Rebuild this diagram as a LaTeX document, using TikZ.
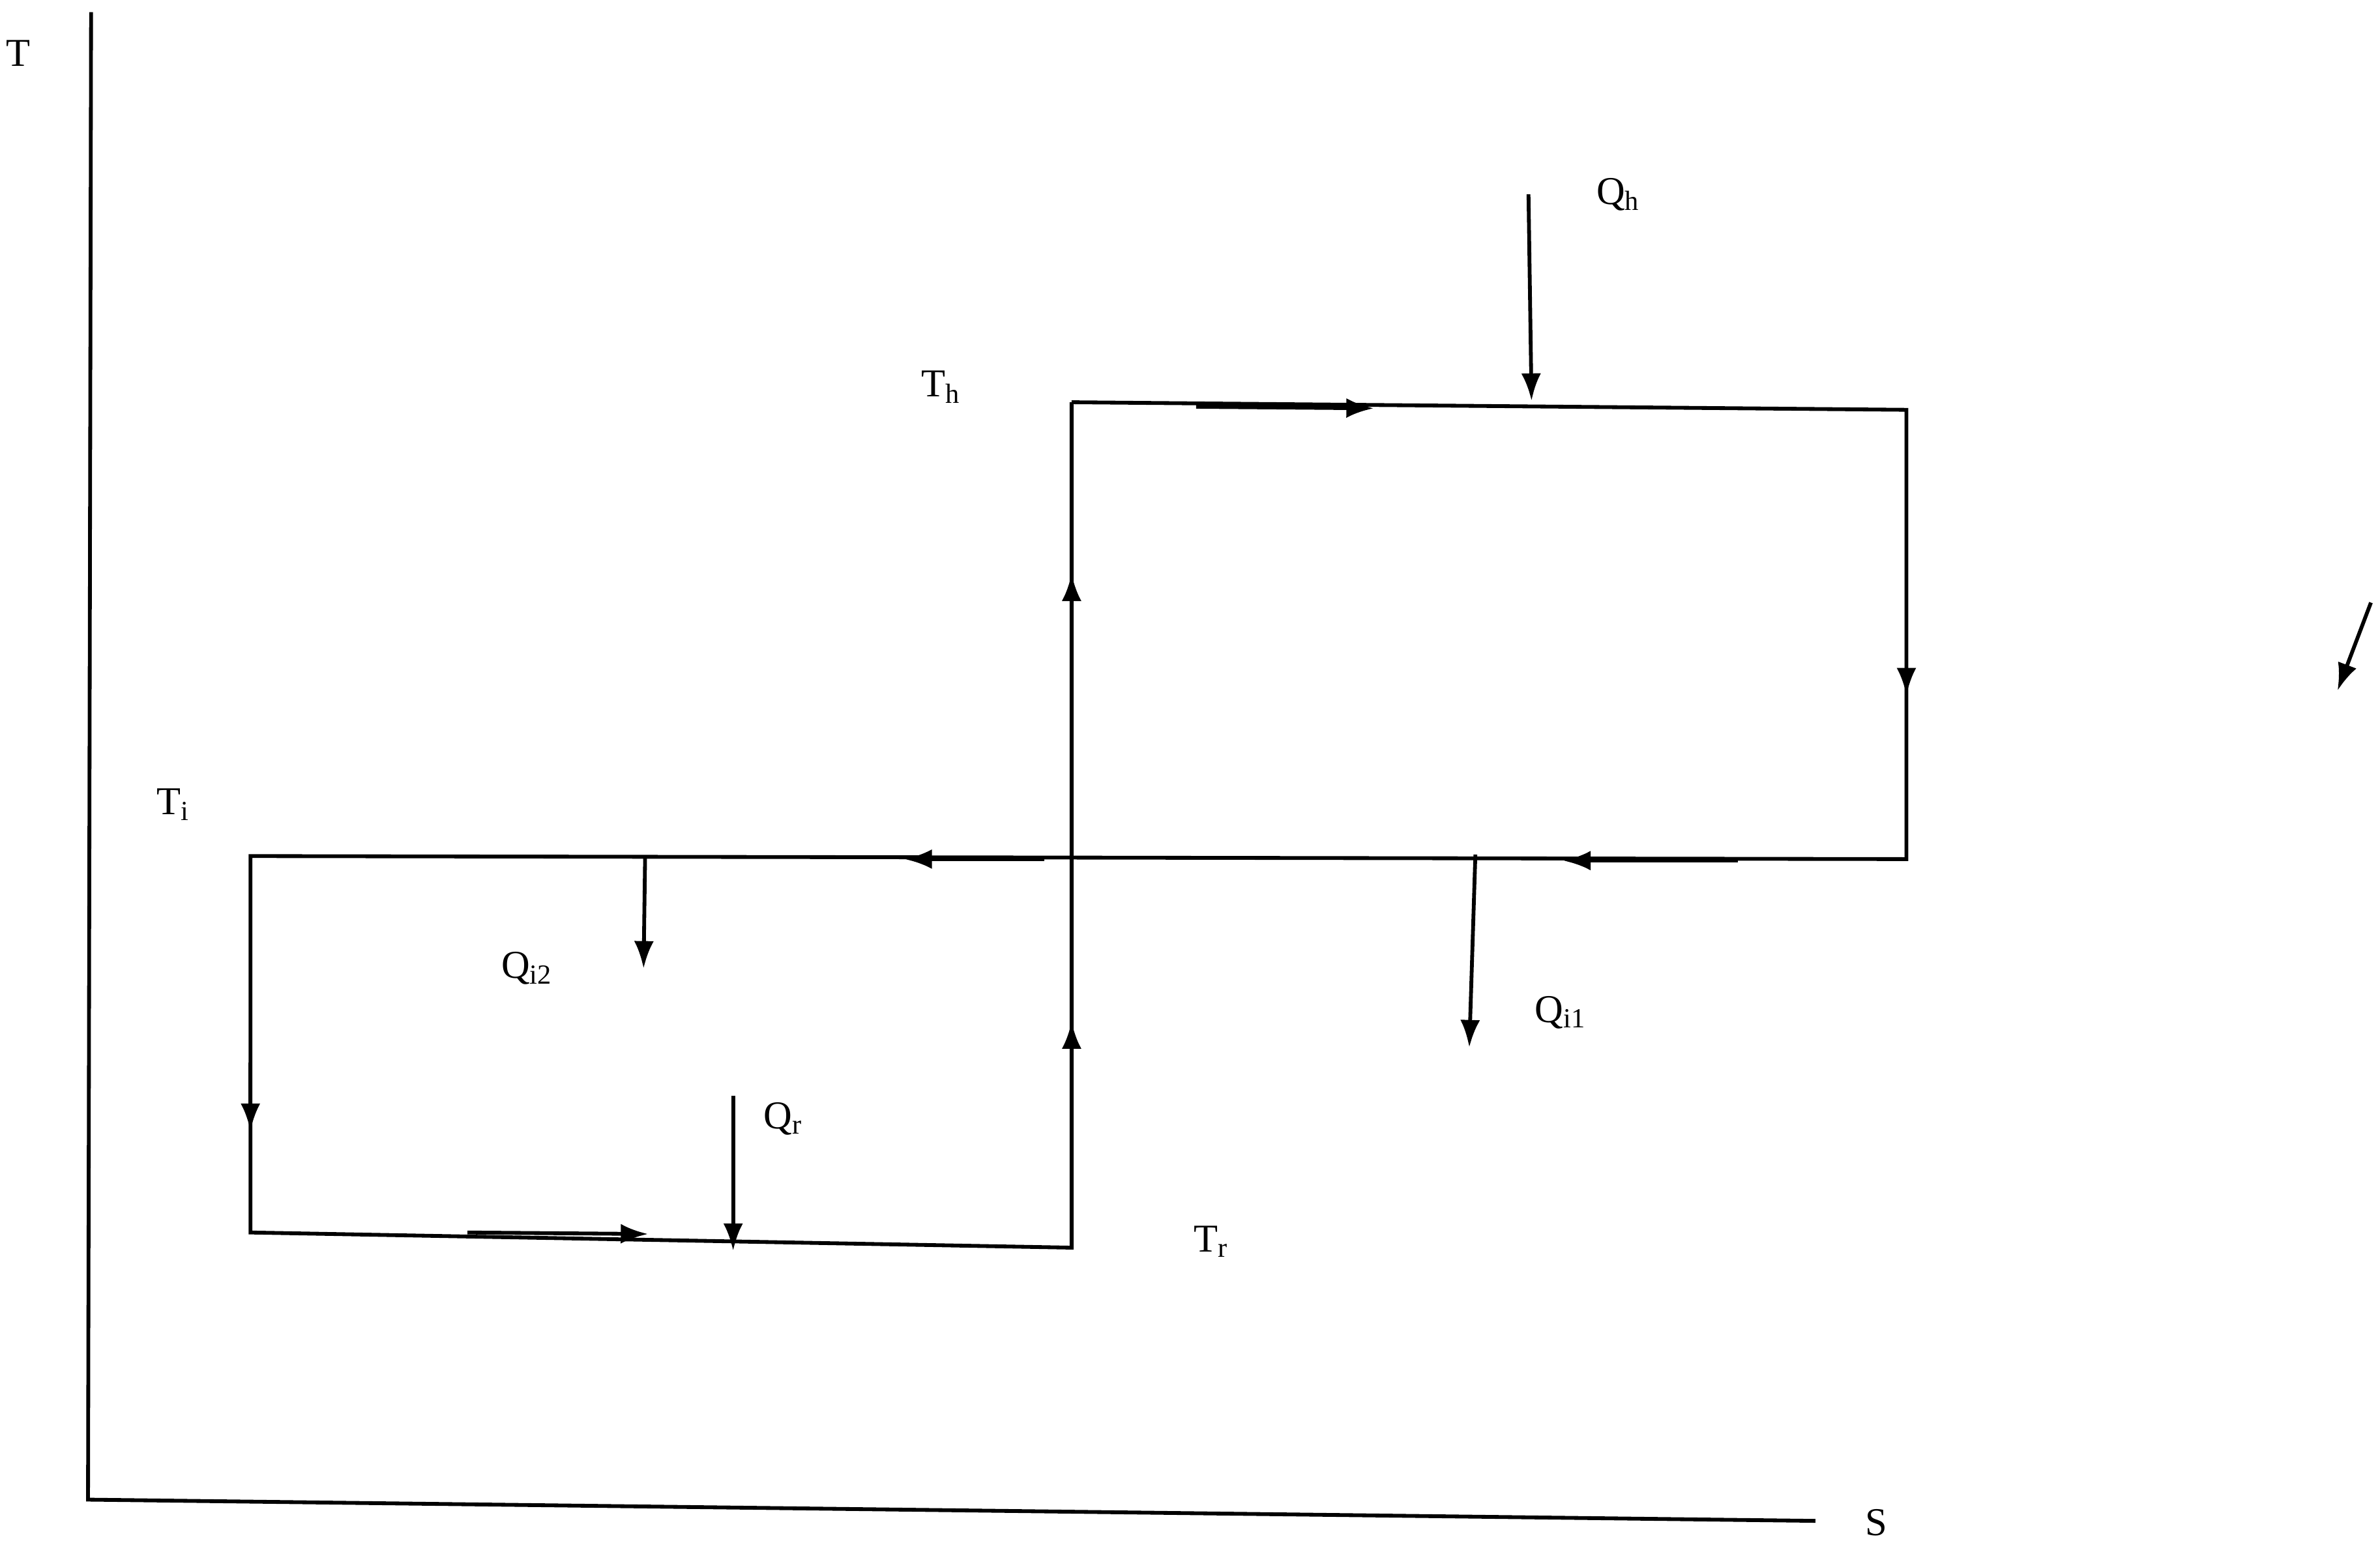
\documentclass[tikz,border=0pt]{standalone}
\usepackage{fontspec}
\setmainfont{Liberation Serif}
\usetikzlibrary{arrows.meta}
\begin{document}
\begin{tikzpicture}[x=1pt,y=-1pt,
  ln/.style={line width=2.5pt},
  arr/.style={line width=2.5pt,-{Latex[length=18pt,width=13pt]}},
  lab/.style={font=\fontsize{26}{30}\selectfont, inner sep=0pt}]
\useasboundingbox (0,0) rectangle (1568,1015);
% axes
\coordinate (ytop) at (60,8); \coordinate (org) at (58,988); \coordinate (xend) at (1196,1002);
\draw[ln] (ytop) -- (org) -- (xend);
\node[lab] (T) at (12,35) {T};
\node[lab] (S) at (1236,1003) {S};
% cycle corners
\coordinate (a) at (706,265); \coordinate (b) at (1256,270); \coordinate (c) at (1256,566);
\coordinate (d) at (165,564); \coordinate (e) at (165,812); \coordinate (f) at (706,822);
\draw[ln] (a) -- (b) -- (c) -- (d) -- (e) -- (f) -- (a);
% direction arrows
\coordinate (p1) at (788,268); \coordinate (p2) at (905,269);
\draw[arr] (p1) -- (p2);
\coordinate (p3) at (1256,420); \coordinate (p4) at (1256,458);
\draw[arr] (p3) -- (p4);
\coordinate (p5) at (1145,567); \coordinate (p6) at (1030,567);
\draw[arr] (p5) -- (p6);
\coordinate (p7) at (688,566); \coordinate (p8) at (596,566);
\draw[arr] (p7) -- (p8);
\coordinate (p9) at (165,700); \coordinate (p10) at (165,745);
\draw[arr] (p9) -- (p10);
\coordinate (p11) at (308,812); \coordinate (p12) at (427,813);
\draw[arr] (p11) -- (p12);
\coordinate (p13) at (706,420); \coordinate (p14) at (706,378);
\draw[arr] (p13) -- (p14);
\coordinate (p15) at (706,720); \coordinate (p16) at (706,673);
\draw[arr] (p15) -- (p16);
% heat arrows
\coordinate (qh1) at (1007,128); \coordinate (qh2) at (1009,264);
\draw[arr] (qh1) -- (qh2);
\coordinate (qi1a) at (972,563); \coordinate (qi1b) at (968,690);
\draw[arr] (qi1a) -- (qi1b);
\coordinate (qi2a) at (425,565); \coordinate (qi2b) at (424,638);
\draw[arr] (qi2a) -- (qi2b);
\coordinate (qra) at (483,722); \coordinate (qrb) at (483,824);
\draw[arr] (qra) -- (qrb);
\coordinate (sa) at (1562,397); \coordinate (sb) at (1540,455);
\draw[arr] (sa) -- (sb);
% labels
\node[lab] (Th) at (620,255) {T\textsubscript{h}};
\node[lab] (Qh) at (1066,128) {Q\textsubscript{h}};
\node[lab] (Ti) at (114,530) {T\textsubscript{i}};
\node[lab] (Qi2) at (347,638) {Q\textsubscript{i2}};
\node[lab] (Qi1) at (1028,667) {Q\textsubscript{i1}};
\node[lab] (Qr) at (516,737) {Q\textsubscript{r}};
\node[lab] (Tr) at (798,818) {T\textsubscript{r}};
\end{tikzpicture}
\end{document}
